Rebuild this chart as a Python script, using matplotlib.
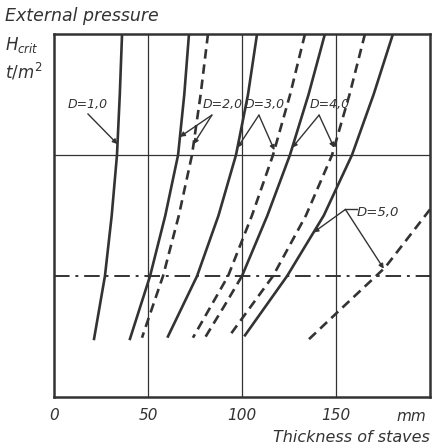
import matplotlib
matplotlib.use('Agg')
import matplotlib.pyplot as plt
import numpy as np

# curve values: thickness of staves (mm) vs. external pressure (grid units)
a_x = [36.2, 35.0, 33.5, 30.7, 27.1, 21.3]
a_y = [3.0, 2.5, 2.0, 1.5, 1.0, 0.48]

b_x = [71.8, 69.3, 66.0, 59.2, 51.1, 40.4]
b_y = [3.0, 2.5, 2.0, 1.5, 1.0, 0.48]
b_dash_x = [81.9, 78.0, 73.4, 66.4, 58.0, 46.8]
b_dash_y = [3.0, 2.5, 2.0, 1.5, 1.0, 0.49]

c_x = [108.0, 103.2, 96.8, 87.5, 76.1, 60.6]
c_y = [3.0, 2.5, 2.0, 1.5, 1.0, 0.5]
c_dash_x = [133.5, 125.6, 116.5, 105.3, 92.6, 73.9]
c_dash_y = [3.0, 2.5, 2.0, 1.5, 1.0, 0.49]

d_x = [144.1, 135.4, 125.5, 113.5, 100.0]
d_y = [3.0, 2.5, 2.0, 1.5, 1.0]
d_low_x = [100.0, 90.5, 80.3]
d_low_y = [1.0, 0.75, 0.49]
d_dash_x = [165.4, 157.2, 147.9, 134.0, 116.5, 92.6]
d_dash_y = [3.0, 2.5, 2.0, 1.5, 1.0, 0.49]

e_x = [180.3, 170.0, 158.5, 143.5, 124.0, 101.6]
e_y = [3.0, 2.5, 2.0, 1.5, 1.0, 0.51]
e_dash_x = [200.0, 176.1, 152.1, 135.1]
e_dash_y = [1.55, 1.07, 0.72, 0.47]

x_ticks = [0, 50, 100, 150]
x_tick_labels = ['0', '50', '100', '150']
limit_level = 1.0

INK = '#333333'
LW = 1.9
DASH = (0, (3.6, 2.2))
FONT = dict(family='DejaVu Sans', style='italic', color=INK)


def at_height(xs, ys, y):
    return float(np.interp(y, ys[::-1], xs[::-1]))


fig = plt.figure(figsize=(4.33, 4.48), dpi=100)
ax = fig.add_axes([54 / 433, 51 / 448, 376 / 433, 363 / 448])

ax.set_xlim(0, 200)
ax.set_ylim(0, 3)

for xv in x_ticks[1:]:
    ax.axvline(xv, color=INK, lw=0.9)
ax.axhline(2.0, color=INK, lw=0.9)
ax.axhline(limit_level, color=INK, lw=1.4, linestyle=(0, (8, 3, 1.5, 3)))

ax.plot(a_x, a_y, color=INK, lw=LW)
ax.plot(b_x, b_y, color=INK, lw=LW)
ax.plot(b_dash_x, b_dash_y, color=INK, lw=LW, linestyle=DASH)
ax.plot(c_x, c_y, color=INK, lw=LW)
ax.plot(c_dash_x, c_dash_y, color=INK, lw=LW, linestyle=DASH)
ax.plot(d_x, d_y, color=INK, lw=LW)
ax.plot(d_low_x, d_low_y, color=INK, lw=LW, linestyle=DASH)
ax.plot(d_dash_x, d_dash_y, color=INK, lw=LW, linestyle=DASH)
ax.plot(e_x, e_y, color=INK, lw=LW)
ax.plot(e_dash_x, e_dash_y, color=INK, lw=LW, linestyle=DASH)

for s in ax.spines.values():
    s.set_linewidth(1.8)
    s.set_color(INK)

ax.set_yticks([])
ax.set_xticks(x_ticks)
ax.set_xticklabels(x_tick_labels, fontsize=11, **FONT)
ax.tick_params(axis='x', length=0, pad=8)

arrow = dict(arrowstyle='-|>', color=INK, lw=1.0, mutation_scale=7, shrinkA=0, shrinkB=0)

# D=1,0
ax.text(7, 2.39, 'D=1,0', fontsize=9, **FONT)
ax.annotate('', xy=(at_height(a_x, a_y, 2.09), 2.09), xytext=(18, 2.34), arrowprops=arrow)

# D=2,0
ax.text(79, 2.39, 'D=2,0', fontsize=9, **FONT)
ax.annotate('', xy=(at_height(b_x, b_y, 2.15), 2.15), xytext=(84, 2.33), arrowprops=arrow)
ax.annotate('', xy=(at_height(b_dash_x, b_dash_y, 2.09), 2.09), xytext=(84, 2.33), arrowprops=arrow)

# D=3,0
ax.text(101.5, 2.39, 'D=3,0', fontsize=9, **FONT)
ax.annotate('', xy=(at_height(c_x, c_y, 2.06), 2.06), xytext=(109, 2.33), arrowprops=arrow)
ax.annotate('', xy=(at_height(c_dash_x, c_dash_y, 2.04), 2.04), xytext=(109, 2.33), arrowprops=arrow)

# D=4,0
ax.text(136, 2.39, 'D=4,0', fontsize=9, **FONT)
ax.annotate('', xy=(at_height(d_x, d_y, 2.06), 2.06), xytext=(141, 2.33), arrowprops=arrow)
ax.annotate('', xy=(at_height(d_dash_x, d_dash_y, 2.06), 2.06), xytext=(141, 2.33), arrowprops=arrow)

# D=5,0
ax.text(161, 1.50, 'D=5,0', fontsize=9.5, **FONT)
ax.plot([155, 161], [1.55, 1.55], color=INK, lw=1.0)
ax.annotate('', xy=(at_height(e_x, e_y, 1.36), 1.36), xytext=(155, 1.55), arrowprops=arrow)
ax.annotate('', xy=(at_height(e_dash_x, e_dash_y, 1.06), 1.06), xytext=(155, 1.55), arrowprops=arrow)

fig.text(5 / 433, 1 - 16 / 448, 'External pressure', fontsize=12.5, va='center', **FONT)
fig.text(5 / 433, 1 - 45 / 448, r'$H_{crit}$', fontsize=12, va='center', color=INK)
fig.text(5 / 433, 1 - 72 / 448, r'$t/m^2$', fontsize=12, va='center', color=INK)
fig.text(396 / 433, 1 - 416 / 448, 'mm', fontsize=11, va='center', **FONT)
fig.text(430 / 433, 1 - 437 / 448, 'Thickness of staves', fontsize=11.5, va='center', ha='right', **FONT)

fig.savefig('out.png', dpi=100)
